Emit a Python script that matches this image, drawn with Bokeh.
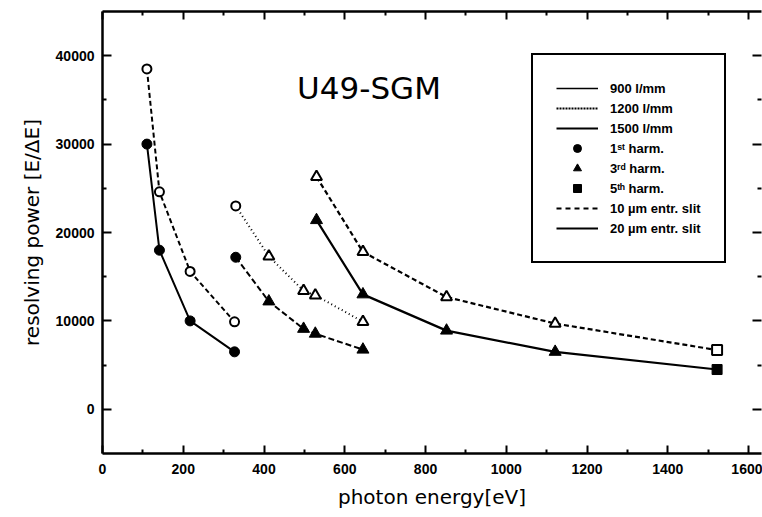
from bokeh.plotting import figure
from bokeh.models import (ColumnDataSource, FixedTicker, LinearAxis, Legend,
                          LegendItem, Label, Range1d, CustomLabelingPolicy)
from bokeh.embed import file_html
from bokeh.resources import INLINE

# ---------------- data ----------------
# group A: 1st harmonic, low energies
E_A = [110, 141, 217, 327]
R_A_10um = [38500, 24600, 15600, 9900]
R_A_20um = [30000, 18000, 10000, 6500]
M_A = ["circle", "circle", "circle", "circle"]

# group B: middle energies
E_B = [330, 412, 498, 527, 645]
R_B_10um = [23000, 17300, 13400, 12900, 9900]
R_B_20um = [17200, 12200, 9100, 8550, 6750]
M_B = ["circle", "triangle", "triangle", "triangle", "triangle"]

# group C: high energies
E_C = [530, 645, 852, 1121, 1522]
R_C_10um = [26300, 17800, 12700, 9700, 6700]
R_C_20um = [21400, 13000, 8900, 6500, 4500]
M_C = ["triangle", "triangle", "triangle", "triangle", "square"]

X_TICKS = [0, 200, 400, 600, 800, 1000, 1200, 1400, 1600]
X_MINOR = [100, 300, 500, 700, 900, 1100, 1300, 1500]
Y_TICKS = [0, 10000, 20000, 30000, 40000]
Y_MINOR = [5000, 15000, 25000, 35000]

TITLE = "U49-SGM"
X_LABEL = "photon energy[eV]"
Y_LABEL = "resolving power [E/\u0394E]"
LEGEND_LABELS = ["900 l/mm", "1200 l/mm", "1500 l/mm",
                 "1\u02e2\u1d57 harm.", "3\u02b3\u1d48 harm.", "5\u1d57\u02b0 harm.",
                 "10 \u00b5m entr. slit", "20 \u00b5m entr. slit"]

NAN = float("nan")

# ---------------- figure ----------------
p = figure(width=762, height=517, x_range=Range1d(0, 1632), y_range=Range1d(-5000, 45000),
           output_backend="svg", toolbar_location=None,
           min_border_left=102, min_border_right=1, min_border_top=11, min_border_bottom=64)
p.outline_line_color = None
p.xgrid.visible = False
p.ygrid.visible = False
p.background_fill_color = "white"
p.border_fill_color = "white"

TICK_FONT = "Liberation Sans"


def style_axis(ax, ticks, minor, major_in, minor_in, labels=True):
    ax.ticker = FixedTicker(ticks=ticks, minor_ticks=minor)
    ax.axis_line_width = 2.5
    ax.axis_line_color = "black"
    ax.major_tick_in = major_in
    ax.major_tick_out = 0
    ax.minor_tick_in = minor_in
    ax.minor_tick_out = 0
    ax.major_tick_line_width = 2
    ax.minor_tick_line_width = 2
    ax.major_tick_line_color = "black"
    ax.minor_tick_line_color = "black"
    if labels:
        ax.major_label_text_font = TICK_FONT
        ax.major_label_text_font_style = "bold"
        ax.major_label_text_font_size = "14px"
        ax.major_label_text_color = "black"
    else:
        # mirrored axis: ticks only, no labels and no space reserved for them
        ax.major_label_text_font_size = "0px"
        ax.major_label_standoff = 0
        ax.major_label_policy = CustomLabelingPolicy(
            code="for (const i of indices) { if (i < 0) yield i }")


xa = p.xaxis[0]
style_axis(xa, X_TICKS, X_MINOR, 8, 4)
xa.major_label_standoff = 10
xa.axis_label = X_LABEL
xa.axis_label_text_font = "DejaVu Sans"
xa.axis_label_text_font_style = "normal"
xa.axis_label_text_font_size = "20px"
xa.axis_label_text_color = "black"
xa.axis_label_standoff = 8

ya = p.yaxis[0]
style_axis(ya, Y_TICKS, Y_MINOR, 9, 4)
ya.major_label_standoff = 8
ya.axis_label = Y_LABEL
ya.axis_label_text_font = "DejaVu Sans"
ya.axis_label_text_font_style = "normal"
ya.axis_label_text_font_size = "20px"
ya.axis_label_text_color = "black"
ya.axis_label_standoff = 9

top = LinearAxis()
style_axis(top, X_TICKS, X_MINOR, 8, 4, labels=False)
p.add_layout(top, "above")

right = LinearAxis()
style_axis(right, Y_TICKS, Y_MINOR, 9, 4, labels=False)
right.axis_line_color = None
p.add_layout(right, "right")

# ---------------- series ----------------
SIZE = {"circle": 10, "triangle": 12, "square": 10}
OPEN_SIZE = {"circle": 9, "triangle": 11, "square": 10}


def series(E, R, M, dash, width, filled):
    p.line(E, R, line_color="black", line_width=width, line_dash=dash)
    sizes = [(SIZE if filled else OPEN_SIZE)[k] for k in M]
    src = ColumnDataSource(dict(x=E, y=R, m=M, s=sizes))
    p.scatter("x", "y", marker="m", size="s", source=src,
              fill_color="black" if filled else "white",
              line_color="black", line_width=1 if filled else 2)


series(E_A, R_A_10um, M_A, "5 3", 2, False)
series(E_A, R_A_20um, M_A, "solid", 2, True)
series(E_B, R_B_10um, M_B, "1 3", 2, False)
series(E_B, R_B_20um, M_B, "6 3", 2, True)
series(E_C, R_C_10um, M_C, "5 3", 2.2, False)
series(E_C, R_C_20um, M_C, "solid", 2.2, True)

# ---------------- legend ----------------
lg = [
    p.line([NAN], [NAN], line_color="black", line_width=1.5),
    p.line([NAN], [NAN], line_color="black", line_width=2, line_dash="2 1"),
    p.line([NAN], [NAN], line_color="black", line_width=2),
    p.scatter([NAN], [NAN], marker="circle", size=10, color="black"),
    p.scatter([NAN], [NAN], marker="triangle", size=12, color="black"),
    p.scatter([NAN], [NAN], marker="square", size=9, color="black"),
    p.line([NAN], [NAN], line_color="black", line_width=2, line_dash="5 4"),
    p.line([NAN], [NAN], line_color="black", line_width=2),
]
legend = Legend(items=[LegendItem(label=t, renderers=[r]) for t, r in zip(LEGEND_LABELS, lg)],
                location=(429, 190))
legend.border_line_color = "black"
legend.border_line_alpha = 1
legend.border_line_width = 2
legend.background_fill_color = "white"
legend.background_fill_alpha = 1
legend.padding = 23
legend.margin = 0
legend.spacing = 0
legend.glyph_width = 42
legend.glyph_height = 20
legend.label_height = 16
legend.label_standoff = 12
legend.label_text_font = TICK_FONT
legend.label_text_font_style = "bold"
legend.label_text_font_size = "13px"
legend.label_text_color = "black"
p.add_layout(legend)

# ---------------- title ----------------
p.add_layout(Label(x=660, y=36400, text=TITLE, text_align="center",
                   text_baseline="alphabetic", text_font="DejaVu Sans",
                   text_font_size="31px", text_color="black"))

open("out.html", "w").write(file_html(p, INLINE))
